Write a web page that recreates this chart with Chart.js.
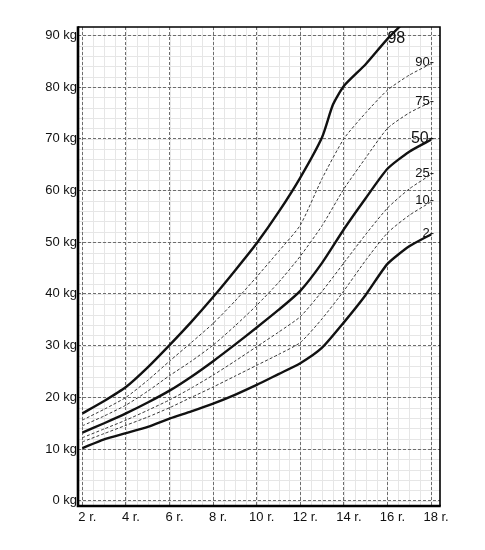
<!DOCTYPE html>
<html><head><meta charset="utf-8">
<script src="https://cdn.jsdelivr.net/npm/chart.js@4/dist/chart.umd.min.js"></script>
<style>html,body{margin:0;padding:0;background:#fff}</style>
</head><body>
<canvas id="c" width="485" height="550" style="width:485px;height:550px;display:block"></canvas>
<script>
// ---- data ----
const ages = [2, 3, 4, 5, 6, 7, 8, 9, 10, 11, 12, 13, 13.5, 14, 15, 16, 17, 18];
const p98 = [16.9, 19.3, 22.0, 25.8, 30.1, 34.6, 39.4, 44.5, 49.8, 55.8, 62.5, 70.3, 76.6, 80.2, 84.4, 89.3, 93.5, null];
const p90 = [15.6, 17.7, 20.0, 23.3, 27.0, 30.6, 34.3, 38.6, 43.3, 48.2, 53.3, 62.3, null, 70.0, 75.0, 79.4, 82.3, 84.5];
const p75 = [14.5, 16.4, 18.5, 21.2, 24.2, 27.0, 30.1, 33.8, 37.8, 42.2, 47.3, 53.2, null, 60.3, 66.3, 72.0, 75.0, 77.1];
const p50 = [13.2, 15.0, 16.9, 19.0, 21.3, 24.0, 27.0, 30.2, 33.5, 36.9, 40.6, 46.0, null, 52.5, 58.5, 64.2, 67.5, 69.8];
const p25 = [12.2, 13.9, 15.6, 17.5, 19.5, 21.8, 24.3, 27.0, 29.8, 32.6, 35.6, 40.5, null, 46.0, 51.5, 56.6, 60.3, 63.1];
const p10 = [11.4, 13.0, 14.6, 16.2, 18.0, 20.0, 22.0, 24.1, 26.2, 28.3, 30.6, 35.2, null, 40.6, 46.5, 51.8, 55.2, 57.8];
const p2  = [10.2, 11.9, 13.1, 14.3, 15.9, 17.3, 18.8, 20.5, 22.4, 24.5, 26.6, 29.6, null, 34.5, 39.8, 45.8, 49.2, 51.5];
const seriesNames = ['98', '90', '75', '50', '25', '10', '2'];
const seriesLabels = ['98', '90-', '75-', '50-', '25-', '10-', '2-'];
const xTickValues = [2, 4, 6, 8, 10, 12, 14, 16, 18];
const xTickLabels = ['2 r.', '4 r.', '6 r.', '8 r.', '10 r.', '12 r.', '14 r.', '16 r.', '18 r.'];
const yTickValues = [0, 10, 20, 30, 40, 50, 60, 70, 80, 90];
const yTickLabels = ['0 kg', '10 kg', '20 kg', '30 kg', '40 kg', '50 kg', '60 kg', '70 kg', '80 kg', '90 kg'];

const allSeries = [p98, p90, p75, p50, p25, p10, p2];
const thick = {'98': true, '50': true, '2': true};

const datasets = allSeries.map((vals, i) => {
  const name = seriesNames[i];
  const isThick = !!thick[name];
  return {
    label: name,
    data: ages.map((a, j) => ({x: a, y: vals[j]})),
    borderColor: isThick ? '#111' : '#3a3a3a',
    borderWidth: isThick ? 2.4 : 1,
    borderDash: isThick ? [] : [3, 2],
    pointRadius: 0,
    tension: 0.2,
    spanGaps: true,
    fill: false
  };
});

const FONT = "'Liberation Sans', Arial, Helvetica, sans-serif";

const minorGrid = {
  id: 'minorGrid',
  beforeDraw(chart) {
    const {ctx, chartArea: a, scales: {x, y}} = chart;
    ctx.save();
    ctx.fillStyle = '#fff';
    ctx.fillRect(0, 0, chart.width, chart.height);
    ctx.strokeStyle = '#e6e6e6';
    ctx.lineWidth = 1;
    ctx.beginPath();
    for (let v = 2; v <= 18.4; v += 0.5) {
      const px = Math.round(x.getPixelForValue(v)) + 0.5;
      ctx.moveTo(px, a.top); ctx.lineTo(px, a.bottom);
    }
    for (let v = 0; v <= 91.6; v += 2) {
      const py = Math.round(y.getPixelForValue(v)) + 0.5;
      ctx.moveTo(a.left, py); ctx.lineTo(a.right, py);
    }
    ctx.stroke();
    ctx.restore();
  }
};

const frame = {
  id: 'frame',
  afterDatasetsDraw(chart) {
    const {ctx, chartArea: a} = chart;
    ctx.save();
    ctx.strokeStyle = '#000';
    ctx.lineWidth = 1.6;
    ctx.beginPath();
    ctx.moveTo(a.left, a.top); ctx.lineTo(a.right, a.top); ctx.lineTo(a.right, a.bottom);
    ctx.stroke();
    ctx.lineWidth = 2.6;
    ctx.beginPath();
    ctx.moveTo(a.left, a.top - 0.8); ctx.lineTo(a.left, a.bottom); ctx.lineTo(a.right + 0.8, a.bottom);
    ctx.stroke();
    ctx.restore();
  }
};

const endLabels = {
  id: 'endLabels',
  afterDraw(chart) {
    const {ctx, chartArea: a} = chart;
    ctx.save();
    ctx.fillStyle = '#111';
    chart.data.datasets.forEach((ds, i) => {
      const meta = chart.getDatasetMeta(i);
      const pts = meta.data.filter((p, j) => ds.data[j].y !== null && p.y >= a.top);
      const last = pts[pts.length - 1];
      if (!last) return;
      const name = seriesNames[i];
      const big = name === '98' || name === '50';
      ctx.font = (big ? '16px ' : '13px ') + FONT;
      ctx.textBaseline = 'middle';
      if (name === '98') {
        ctx.textAlign = 'left';
        ctx.fillText(seriesLabels[i], last.x, last.y);
      } else {
        ctx.textAlign = 'right';
        ctx.fillText(seriesLabels[i], last.x + 3, last.y - 1);
      }
    });
    ctx.restore();
  }
};

new Chart(document.getElementById('c'), {
  type: 'line',
  data: {datasets},
  plugins: [minorGrid, frame, endLabels],
  options: {
    responsive: false,
    animation: false,
    layout: {padding: {top: 27, right: 45, bottom: 0, left: 0}},
    plugins: {legend: {display: false}, tooltip: {enabled: false}},
    scales: {
      x: {
        type: 'linear',
        min: 1.8, max: 18.41,
        afterBuildTicks: s => { s.ticks = xTickValues.map(v => ({value: v})); },
        afterFit: s => { s.height = 44; },
        border: {display: false, dash: [3, 2]},
        grid: {color: '#6e6e6e', lineWidth: 1, drawTicks: false},
        ticks: {
          padding: 4, labelOffset: 5, maxRotation: 0, autoSkip: false,
          color: '#111', font: {family: FONT, size: 13},
          callback: v => xTickLabels[xTickValues.indexOf(v)]
        }
      },
      y: {
        type: 'linear',
        min: -1.0, max: 91.6,
        afterBuildTicks: s => { s.ticks = yTickValues.map(v => ({value: v})); },
        afterFit: s => { s.width = 78; },
        border: {display: false, dash: [3, 2]},
        grid: {color: '#6e6e6e', lineWidth: 1, drawTicks: false},
        ticks: {
          padding: 1, autoSkip: false,
          color: '#111', font: {family: FONT, size: 13},
          callback: v => yTickLabels[yTickValues.indexOf(v)]
        }
      }
    }
  }
});
</script>
</body></html>
